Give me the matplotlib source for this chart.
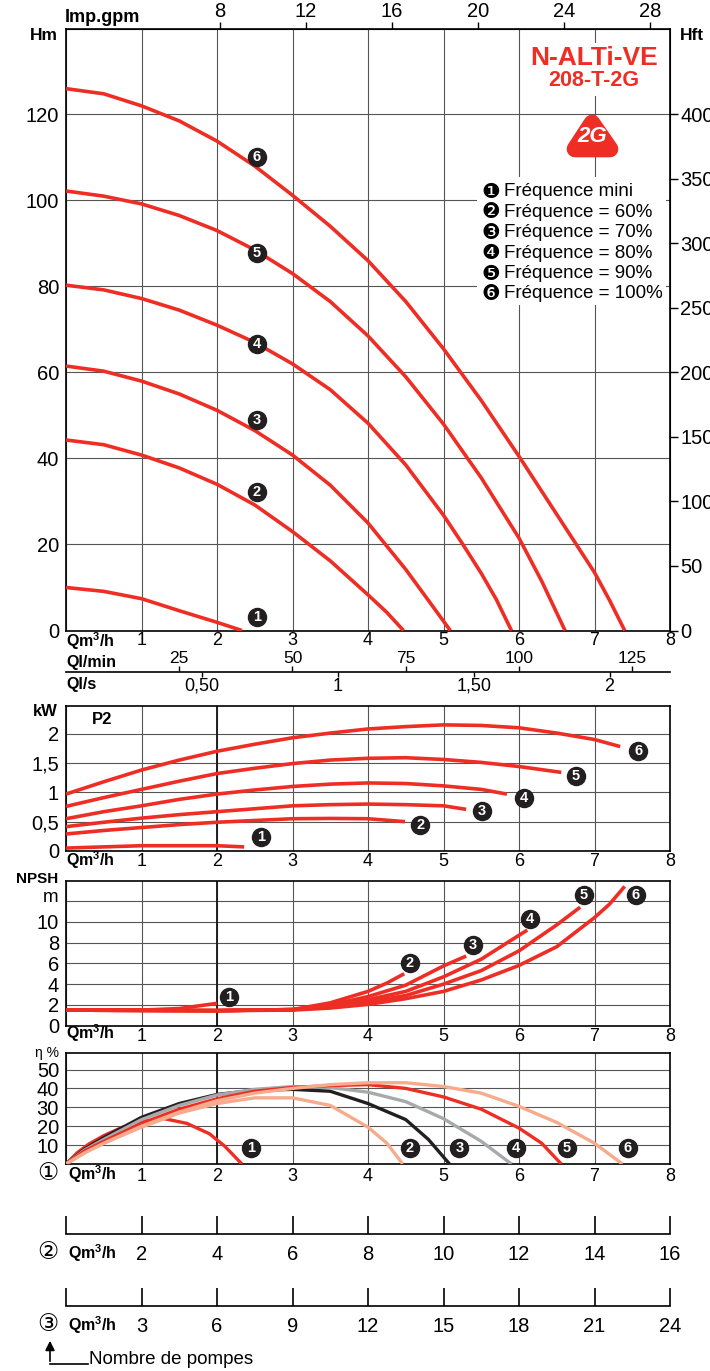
import matplotlib
matplotlib.use('Agg')
import matplotlib.pyplot as plt
from matplotlib.patches import Rectangle, Polygon

plt.rcParams['font.family'] = ['Liberation Sans', 'DejaVu Sans']
plt.rcParams['mathtext.fontset'] = 'custom'
plt.rcParams['mathtext.rm'] = 'Liberation Sans'
plt.rcParams['mathtext.bf'] = 'Liberation Sans:bold'

W, H = 710, 1371
RED = '#EE2E24'
SALMON = '#F6AB8C'
GREY = '#A7A9AC'
BLACK = '#231F20'
GRID = '#555555'
TICK = 14.5
XTICK = 13

# ---- H (m) vs Q (m3/h)
hq1 = [0, 0.5, 1.0, 1.5, 2.0, 2.33]
h1 = [10.0, 9.1, 7.4, 4.6, 1.9, 0]
hq2 = [0, 0.5, 1.0, 1.5, 2.0, 2.5, 3.0, 3.5, 4.0, 4.25, 4.47]
h2 = [44.3, 43.2, 40.8, 37.8, 34.0, 29.2, 23.0, 16.2, 8.3, 4.2, 0]
hq3 = [0, 0.5, 1.0, 1.5, 2.0, 2.5, 3.0, 3.5, 4.0, 4.5, 4.8, 5.09]
h3 = [61.5, 60.3, 58.0, 55.0, 51.2, 46.5, 40.8, 33.8, 25.0, 14.2, 7.0, 0]
hq4 = [0, 0.5, 1.0, 1.5, 2.0, 2.5, 3.0, 3.5, 4.0, 4.5, 5.0, 5.25, 5.5, 5.7, 5.9]
h4 = [80.3, 79.2, 77.2, 74.5, 71.0, 67.0, 62.0, 56.0, 48.2, 38.5, 26.8, 20.2, 13.3, 7.2, 0]
hq5 = [0, 0.5, 1.0, 1.5, 2.0, 2.5, 3.0, 3.5, 4.0, 4.5, 5.0, 5.5, 6.0, 6.3, 6.61]
h5 = [102.2, 101.0, 99.2, 96.5, 93.0, 88.5, 83.0, 76.5, 68.5, 59.0, 48.0, 35.5, 21.5, 11.5, 0]
hq6 = [0, 0.5, 1.0, 1.5, 2.0, 2.5, 3.0, 3.5, 4.0, 4.5, 5.0, 5.5, 6.0, 6.5, 7.0, 7.2, 7.4]
h6 = [126.0, 124.8, 122.0, 118.5, 113.8, 108.0, 101.2, 94.0, 86.0, 76.5, 65.5, 53.5, 40.5, 27.0, 13.5, 7.0, 0]

# ---- P2 (kW)
pq1 = [0, 1, 2, 2.36]
p1 = [0.05, 0.09, 0.09, 0.07]
pq2 = [0, 0.5, 1, 1.5, 2, 2.5, 3, 3.5, 4, 4.49]
p2 = [0.29, 0.35, 0.40, 0.45, 0.49, 0.52, 0.55, 0.555, 0.55, 0.50]
pq3 = [0, 0.5, 1, 1.5, 2, 2.5, 3, 3.5, 4, 4.5, 5, 5.30]
p3 = [0.415, 0.49, 0.56, 0.62, 0.67, 0.72, 0.77, 0.79, 0.80, 0.79, 0.77, 0.71]
pq4 = [0, 0.5, 1, 1.5, 2, 2.5, 3, 3.5, 4, 4.5, 5, 5.5, 5.84]
p4 = [0.55, 0.67, 0.77, 0.88, 0.97, 1.04, 1.10, 1.14, 1.16, 1.15, 1.11, 1.05, 0.97]
pq5 = [0, 0.5, 1, 1.5, 2, 2.5, 3, 3.5, 4, 4.5, 5, 5.5, 6, 6.56]
p5 = [0.76, 0.91, 1.05, 1.19, 1.32, 1.41, 1.49, 1.55, 1.58, 1.59, 1.56, 1.51, 1.44, 1.34]
pq6 = [0, 0.5, 1, 1.5, 2, 2.5, 3, 3.5, 4, 4.5, 5, 5.5, 6, 6.5, 7, 7.34]
p6 = [0.97, 1.18, 1.38, 1.55, 1.70, 1.82, 1.93, 2.01, 2.08, 2.12, 2.15, 2.14, 2.10, 2.01, 1.90, 1.78]

# ---- NPSH (m)
nq1 = [0, 1.0, 1.5, 2.0]
n1 = [1.5, 1.5, 1.65, 2.15]
nq2 = [0, 2, 3, 3.5, 4.0, 4.25, 4.48]
n2 = [1.5, 1.45, 1.55, 2.2, 3.3, 4.1, 5.0]
nq3 = [0, 2, 3, 3.5, 4.0, 4.5, 5.0, 5.3]
n3 = [1.5, 1.45, 1.55, 2.0, 2.8, 3.9, 5.75, 6.7]
nq4 = [0, 2, 3, 3.5, 4.0, 4.5, 5.0, 5.5, 6.0, 6.11]
n4 = [1.5, 1.45, 1.55, 1.9, 2.5, 3.3, 4.7, 6.4, 8.7, 9.2]
nq5 = [0, 2, 3, 3.5, 4.0, 4.5, 5.0, 5.5, 6.0, 6.5, 6.81]
n5 = [1.5, 1.45, 1.55, 1.8, 2.3, 2.9, 4.0, 5.3, 7.2, 9.7, 11.4]
nq6 = [0, 2, 3, 3.5, 4.0, 4.5, 5.0, 5.5, 6.0, 6.5, 7.0, 7.2, 7.4]
n6 = [1.5, 1.45, 1.5, 1.7, 2.05, 2.6, 3.3, 4.4, 5.8, 7.6, 10.4, 11.7, 13.4]

# ---- rendement (%)
eq1 = [0, 0.15, 0.3, 0.5, 0.75, 1.0, 1.3, 1.6, 1.9, 2.1, 2.33]
e1 = [0, 6, 10.5, 15, 19.5, 22.5, 24, 21.5, 16, 9.5, 0]
eq2 = [0, 0.25, 0.5, 1, 1.5, 2, 2.5, 3, 3.5, 4, 4.25, 4.46]
e2 = [0, 6, 11, 19.5, 27, 32, 35, 35, 31, 19.5, 11, 0]
eq3 = [0, 0.25, 0.5, 1, 1.5, 2, 2.5, 3, 3.5, 4, 4.5, 4.8, 5.08]
e3 = [0, 8, 14, 24.7, 32, 36.8, 39, 39.5, 38.5, 32, 23.5, 13, 0]
eq4 = [0, 0.25, 0.5, 1, 1.5, 2, 2.5, 3, 3.5, 4, 4.5, 5, 5.5, 5.9]
e4 = [0, 7.5, 13, 23.5, 31, 36.5, 39.5, 41, 40.5, 38, 33, 24, 12, 0]
eq5 = [0, 0.25, 0.5, 1, 1.5, 2, 2.5, 3, 3.5, 4, 4.5, 5, 5.5, 6, 6.3, 6.56]
e5 = [0, 7, 12, 21.5, 29, 34.5, 38.5, 40.5, 41.5, 42, 40, 35.5, 29, 19, 11, 0]
eq6 = [0, 0.25, 0.5, 1, 1.5, 2, 2.5, 3, 3.5, 4, 4.5, 5, 5.5, 6, 6.5, 7, 7.37]
e6 = [0, 6, 11, 20, 27.5, 33.5, 37.5, 40, 42, 43, 43, 41, 37.5, 30.5, 22, 11, 0]

legend_labels = ['Fréquence mini', 'Fréquence = 60%', 'Fréquence = 70%',
                 'Fréquence = 80%', 'Fréquence = 90%', 'Fréquence = 100%']
bullets = ['❶', '❷', '❸', '❹', '❺', '❻']


def fbox(l, t, r, b):
    return [l / W, 1 - b / H, (r - l) / W, (b - t) / H]


def panel(ax, ymax, yticks, ylabels):
    ax.set_xlim(0, 8)
    ax.set_ylim(0, ymax)
    ax.set_xticks(range(9))
    ax.set_xticklabels([''] + [str(i) for i in range(1, 9)])
    ax.set_yticks(yticks)
    ax.set_yticklabels(ylabels)
    ax.tick_params(length=0, labelsize=TICK, pad=5)
    ax.tick_params(axis='x', labelsize=XTICK, pad=1.5)
    ax.grid(True, color=GRID, lw=0.8)
    for s in ax.spines.values():
        s.set_linewidth(1.2)


def badge(ax, x, y, n):
    ax.plot(x, y, 'o', ms=13, color=BLACK, zorder=5, clip_on=False)
    ax.text(x, y, str(n), color='white', fontsize=10.5, fontweight='bold',
            ha='center', va='center', zorder=6, clip_on=False)


fig = plt.figure(figsize=(W / 100, H / 100), dpi=100)

# courbes H
ax = fig.add_axes(fbox(66, 29.3, 670, 630.5))
panel(ax, 139.8, range(0, 121, 20), [str(v) for v in range(0, 121, 20)])
ax.tick_params(axis='x', pad=1)
for q, h in [(hq1, h1), (hq2, h2), (hq3, h3), (hq4, h4), (hq5, h5), (hq6, h6)]:
    ax.plot(q, h, color=RED, lw=2.6, solid_capstyle='butt', solid_joinstyle='round', zorder=3)
for n, h in enumerate([3.1, 32.2, 49, 66.6, 87.8, 110], start=1):
    badge(ax, 2.53, h, n)

gpm = ax.secondary_xaxis('top', functions=(lambda q: (q + 0.24) / 0.285,
                                           lambda g: 0.285 * g - 0.24))
gpm.set_xticks(range(8, 29, 4))
gpm.tick_params(length=5, width=1, labelsize=TICK, pad=1)
ft = ax.secondary_yaxis('right', functions=(lambda m: m / 0.3, lambda f: f * 0.3))
ft.set_yticks(range(0, 401, 50))
ft.tick_params(length=5.5, width=1, labelsize=TICK, pad=2)

# débit l/min et l/s
axf = fig.add_axes(fbox(66, 671, 670, 672))
axf.set_xlim(0, 8)
axf.set_yticks([])
axf.set_xticks([])
for side in ['top', 'left', 'right']:
    axf.spines[side].set_visible(False)
axf.spines['bottom'].set_linewidth(1.2)
axf.patch.set_visible(False)
lmin = axf.secondary_xaxis('top', functions=(lambda q: q * 1000 / 60, lambda l: l * 60 / 1000))
lmin.set_xticks([25, 50, 75, 100, 125])
lmin.tick_params(length=3.5, width=1, labelsize=12.5, pad=0.3)
lmin.spines['top'].set_visible(False)
ls = axf.secondary_xaxis('bottom', functions=(lambda q: q / 3.6, lambda s: s * 3.6))
ls.set_xticks([0.5, 1, 1.5, 2])
ls.set_xticklabels(['0,50', '1', '1,50', '2'])
ls.tick_params(length=3.5, width=1, labelsize=13, pad=0.5)
ls.spines['bottom'].set_visible(False)

# P2
axp = fig.add_axes(fbox(66, 705.5, 670, 851))
panel(axp, 2.48, [0, 0.5, 1, 1.5, 2], ['0', '0,5', '1', '1,5', '2'])
axp.axvline(2, color=BLACK, lw=1.4)
for q, p in [(pq1, p1), (pq2, p2), (pq3, p3), (pq4, p4), (pq5, p5), (pq6, p6)]:
    axp.plot(q, p, color=RED, lw=2.6, solid_capstyle='butt', solid_joinstyle='round', zorder=3)
for n, (x, y) in enumerate([(2.58, 0.24), (4.69, 0.44), (5.51, 0.69), (6.07, 0.90),
                            (6.75, 1.27), (7.58, 1.70)], start=1):
    badge(axp, x, y, n)

# NPSH
axn = fig.add_axes(fbox(66, 880.7, 670, 1025.7))
panel(axn, 13.95, range(0, 13, 2), ['0', '2', '4', '6', '8', '10', ''])
axn.axvline(2, color=BLACK, lw=1.4)
for q, v in [(nq1, n1), (nq2, n2), (nq3, n3), (nq4, n4), (nq5, n5), (nq6, n6)]:
    axn.plot(q, v, color=RED, lw=2.6, solid_capstyle='butt', solid_joinstyle='round', zorder=3)
for n, (x, y) in enumerate([(2.16, 2.8), (4.55, 6.06), (5.39, 7.76), (6.14, 10.3),
                            (6.86, 12.6), (7.55, 12.6)], start=1):
    badge(axn, x, y, n)

# rendement
axe = fig.add_axes(fbox(66, 1052.7, 670, 1164))
panel(axe, 58.9, range(0, 51, 10), [''] + [str(v) for v in range(10, 51, 10)])
axe.tick_params(axis='x', pad=3)
axe.axvline(2, color=BLACK, lw=1.4)
eff = [(eq1, e1, RED), (eq2, e2, SALMON), (eq3, e3, BLACK),
       (eq4, e4, GREY), (eq5, e5, RED), (eq6, e6, SALMON)]
for q, v, c in eff:
    axe.plot(q, v, color=c, lw=2.4, solid_capstyle='butt', solid_joinstyle='round', zorder=3)
for n, x in enumerate([2.45, 4.55, 5.21, 5.96, 6.63, 7.44], start=1):
    badge(axe, x, 8.3, n)

# échelles 2 et 3 pompes
for top, bot, mult in [(1216.5, 1234.3, 2), (1288.3, 1306, 3)]:
    a = fig.add_axes(fbox(66, top, 670, bot))
    a.set_xlim(0, 8)
    a.set_yticks([])
    a.set_xticks(range(9))
    a.set_xticklabels([''] + [str(i * mult) for i in range(1, 9)])
    a.tick_params(axis='x', direction='in', length=12.8, width=1.2, labelsize=TICK, pad=8)
    for side in ['top', 'left', 'right']:
        a.spines[side].set_visible(False)
    a.spines['bottom'].set_linewidth(1.2)
    a.patch.set_visible(False)

# textes libres en pixels
ov = fig.add_axes([0, 0, 1, 1])
ov.set_xlim(0, W)
ov.set_ylim(H, 0)
ov.axis('off')
ov.patch.set_visible(False)

bold = dict(fontsize=11.5, fontweight='bold', va='center')
qm = r'Qm$^{\mathbf{3}}$/h'
ov.text(65, 18, 'Imp.gpm', ha='left', fontsize=13, fontweight='bold', va='center')
ov.text(58, 36, 'Hm', ha='right', fontsize=12.5, fontweight='bold', va='center')
ov.text(680, 35, 'Hft', ha='left', fontsize=12.5, fontweight='bold', va='center')
ov.text(66, 641, qm, ha='left', **bold)
ov.text(66, 663, 'Ql/min', ha='left', **bold)
ov.text(66, 684, 'Ql/s', ha='left', **bold)
ov.text(58, 711, 'kW', ha='right', fontsize=12, fontweight='bold', va='center')
ov.text(102, 719, 'P2', ha='center', fontsize=12, fontweight='bold', va='center')
ov.text(66, 860, qm, ha='left', **bold)
ov.text(58, 879, 'NPSH', ha='right', fontsize=11, fontweight='bold', va='center')
ov.text(58, 897, 'm', ha='right', fontsize=13.5, va='center')
ov.text(66, 1033, qm, ha='left', **bold)
ov.text(59, 1053, 'η %', ha='right', fontsize=10, va='center')
ov.text(68, 1174, qm, ha='left', **bold)
ov.text(68, 1253, qm, ha='left', **bold)
ov.text(68, 1325, qm, ha='left', **bold)
for y, c in [(1173, '①'), (1252, '②'), (1324, '③')]:
    ov.text(48, y, c, ha='center', va='center', fontsize=17, family=['DejaVu Sans'])

ov.annotate('', xy=(50, 1338), xytext=(50, 1364),
            arrowprops=dict(arrowstyle='-|>', color='black', lw=1.2, mutation_scale=14))
ov.plot([50, 88], [1363.5, 1363.5], color='black', lw=1.2)
ov.text(89, 1360, 'Nombre de pompes', ha='left', va='center', fontsize=13.5)

# titre et logo
ov.add_patch(Rectangle((526, 43), 136, 53, fc='white', ec='none'))
ov.text(594, 58, 'N-ALTi-VE', color=RED, fontsize=19, fontweight='bold', ha='center', va='center')
ov.text(594, 81, '208-T-2G', color=RED, fontsize=15.5, fontweight='bold', ha='center', va='center')
ov.add_patch(Polygon([(592, 123), (575, 149), (610, 149)], closed=True, fc=RED, ec=RED,
                     lw=12, joinstyle='round'))
ov.text(592, 137, '2G', color='white', fontsize=16, fontweight='bold', style='italic',
        ha='center', va='center')

# légende
ov.add_patch(Rectangle((477, 177), 189, 128, fc='white', ec='none'))
for i, (b, lab) in enumerate(zip(bullets, legend_labels)):
    y = 192 + i * 20.4
    ov.text(491, y, b, ha='center', va='center', fontsize=15, family=['DejaVu Sans'])
    ov.text(504, y, lab, ha='left', va='center', fontsize=13.5)

fig.savefig('out.png', dpi=100)
